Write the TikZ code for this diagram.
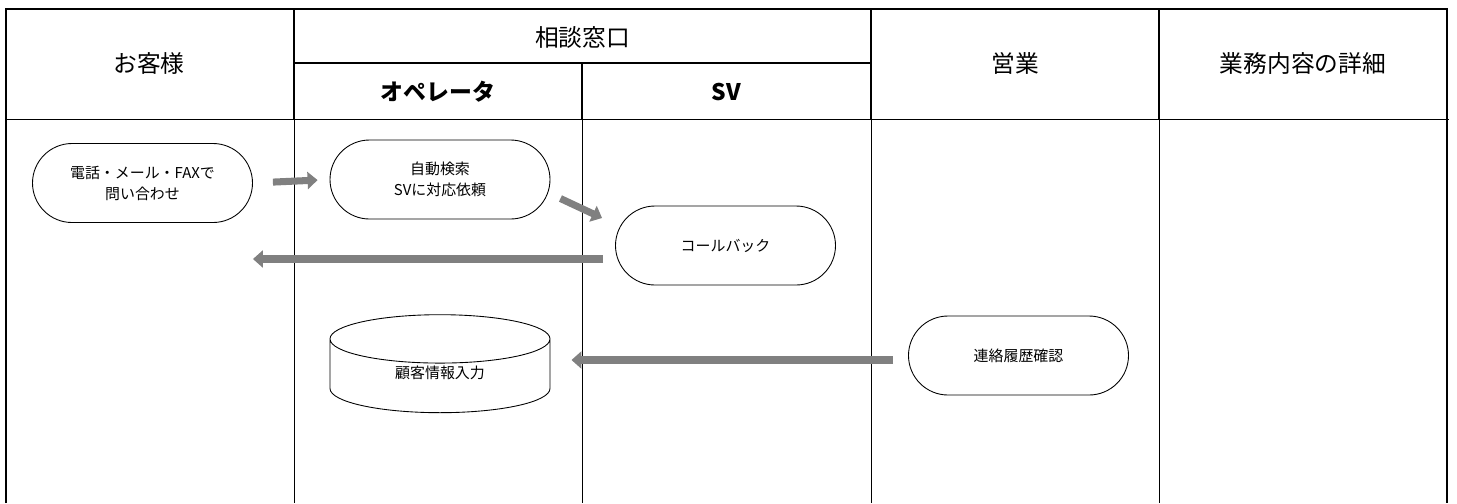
\documentclass[tikz,border=0pt]{standalone}
\usepackage{fontspec}
\setmainfont{Noto Sans CJK JP}
\usepackage{xcolor}
\usepackage{tikz}
\usetikzlibrary{arrows.meta,positioning,calc,shapes.geometric,shapes.misc}
\definecolor{flowgray}{RGB}{128,128,128}

\begin{document}
\begin{tikzpicture}[>=Stealth,
  hdr/.style={font=\fontsize{13.5pt}{15pt}\selectfont},
  hdrb/.style={font=\fontsize{13pt}{15pt}\selectfont\bfseries},
  task/.style={draw,rounded rectangle,minimum width=4.4cm,minimum height=1.58cm,inner sep=0pt,
    align=center,font=\fontsize{8.5pt}{12pt}\selectfont,line width=0.5pt},
  store/.style={draw,cylinder,shape border rotate=90,aspect=0.54,minimum width=4.4cm,minimum height=1.96cm,
    inner sep=0pt,font=\fontsize{8.5pt}{12pt}\selectfont,line width=0.5pt},
  flow/.style={draw=flowgray,line width=4pt,-{Triangle[length=0.2cm,width=0.34cm]}}]
  \useasboundingbox (0,0) rectangle (29.14,-10.06);
  % lanes
  \draw[line width=0.5pt] (5.88,-2.38) -- (5.88,-10.06) (11.64,-2.38) -- (11.64,-10.06)
    (17.42,-2.38) -- (17.42,-10.06) (23.18,-2.38) -- (23.18,-10.06);
  \draw[line width=0.5pt] (0.12,-2.38) -- (28.98,-2.38);
  \draw[line width=0.9pt] (5.88,-0.18) -- (5.88,-2.38) (17.42,-0.18) -- (17.42,-2.38)
    (23.18,-0.18) -- (23.18,-2.38) (11.64,-1.26) -- (11.64,-2.38) (5.88,-1.26) -- (17.42,-1.26);
  \draw[line width=1.2pt] (0.12,-10.06) -- (0.12,-0.18) -- (28.94,-0.18) -- (28.94,-10.06);
  \node[hdr] (hCust) at (2.98,-1.26) {お客様};
  \node[hdr] (hDesk) at (11.65,-0.74) {相談窓口};
  \node[hdrb] (hOp) at (8.76,-1.84) {オペレータ};
  \node[hdrb] (hSV) at (14.53,-1.84) {SV};
  \node[hdr] (hSales) at (20.3,-1.26) {営業};
  \node[hdr] (hDetail) at (26.06,-1.26) {業務内容の詳細};
  % steps
  \node[task] (tel) at (2.85,-3.66) {電話・メール・FAXで\\問い合わせ};
  \node[task] (search) at (8.8,-3.59) {自動検索\\SVに対応依頼};
  \node[task] (callback) at (14.51,-4.91) {コールバック};
  \node[task] (record) at (20.37,-7.11) {連絡履歴確認};
  \node[store] (db) at (8.8,-7.52) {\raisebox{0.14cm}{顧客情報入力}};
  \coordinate (cb) at ([shift={(-0.24,-0.27)}]callback.west);
  \coordinate (rc) at ([shift={(-0.3,-0.09)}]record.west);
  \draw[flow] (tel.east) -- (search.west) [shorten <=0.4cm,shorten >=0.24cm];
  \draw[flow] ($(search.east)+(0.2,-0.38)$) -- ($(callback.west)+(-0.26,0.55)$);
  \draw[flow] (cb) -- (cb -| tel.east);
  \draw[flow] (rc) -- ([xshift=0.42cm]rc -| db.east);
\end{tikzpicture}
\end{document}
